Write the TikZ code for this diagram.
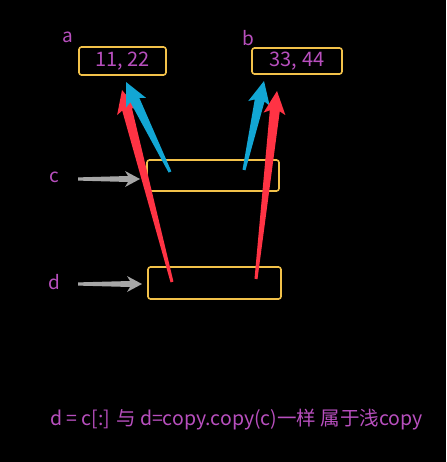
\documentclass[tikz,border=0pt]{standalone}
\usepackage{xcolor}
\usepackage{fontspec}
\setmainfont{Noto Sans CJK SC}
\usepackage{tikz}
\usetikzlibrary{calc}

\definecolor{labelpink}{HTML}{B84FBE}
\definecolor{boxyellow}{HTML}{F2C14A}
\definecolor{refred}{HTML}{FF3344}
\definecolor{refblue}{HTML}{12A6D4}
\definecolor{refgray}{HTML}{A6A6A6}

% colour, tail, tip, tail half width, neck half width, head length, head half width
\newcommand{\taperarrow}[7]{%
  \coordinate (neck) at ($(#3)!#6!(#2)$);
  \coordinate (barb) at ($(#3)!#6+3pt!(#2)$);
  \fill[#1] ($(#2)!#4!90:(#3)$) -- ($(neck)!#5!90:(#3)$) -- ($(barb)!#7!90:(#3)$)
    -- (#3) -- ($(barb)!#7!-90:(#3)$) -- ($(neck)!#5!-90:(#3)$)
    -- ($(#2)!#4!-90:(#3)$) -- cycle;
}

\tikzset{
  valbox/.style={draw=boxyellow, line width=1.6pt, rounded corners=2.5pt, text=labelpink,
    font=\fontsize{20}{22}\selectfont, inner sep=0pt},
  varname/.style={text=labelpink, font=\fontsize{19}{21}\selectfont, inner sep=0pt},
}

\begin{document}
\begin{tikzpicture}[x=1pt, y=-1pt]
    \fill[black] (0,0) rectangle (446,462);

    % list objects
    \node[valbox, minimum width=87pt, minimum height=28pt] (a) at (122.5,61) {11, 22\hspace{10pt}};
    \node[varname] (la) at (67.5,37.5) {a};
    \node[valbox, minimum width=90pt, minimum height=26pt] (b) at (297,61) {33, 44\hspace{8pt}};
    \node[varname] (lb) at (248,38.5) {b};

    % outer lists
    \node[valbox, minimum width=132pt, minimum height=31pt] (c) at (213,175.5) {};
    \node[varname] (lc) at (54,177) {c};
    \node[valbox, minimum width=133pt, minimum height=32pt] (d) at (214.5,283) {};
    \node[varname] (ld) at (54,282.5) {d};

    % arrow ends
    \coordinate (cs) at (78,179);
    \coordinate (ce) at (140,179);
    \coordinate (ds) at (78,284);
    \coordinate (de) at (142,284);
    \coordinate (dra) at (172,282);
    \coordinate (ta) at (122,90);
    \coordinate (cba) at (170,172);
    \coordinate (tba) at (126,82);
    \coordinate (cbb) at (244,170);
    \coordinate (tbb) at (264,81);
    \coordinate (drb) at (256,279);
    \coordinate (trb) at (277,91);

    % name arrows
    \taperarrow{refgray}{cs}{ce}{1.6pt}{3pt}{12pt}{8pt}
    \taperarrow{refgray}{ds}{de}{1.6pt}{3pt}{12pt}{8pt}

    % references
    \taperarrow{refred}{dra}{ta}{1.5pt}{5pt}{20pt}{11pt}
    \taperarrow{refblue}{cba}{tba}{1.5pt}{5pt}{20pt}{11pt}
    \taperarrow{refblue}{cbb}{tbb}{1.5pt}{5pt}{20pt}{11pt}
    \taperarrow{refred}{drb}{trb}{1.5pt}{5pt}{20pt}{11pt}

    % note
    \node[varname, font=\fontsize{19.5}{22}\selectfont, anchor=base west] (note) at (50,425) {d = c[:] 与 d=copy.copy(c)一样 属于浅copy};
\end{tikzpicture}
\end{document}
